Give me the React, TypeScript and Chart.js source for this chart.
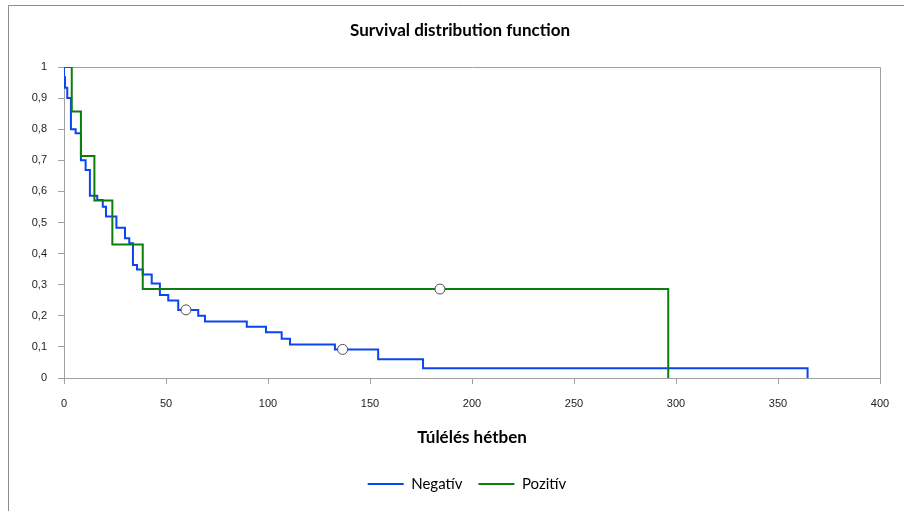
import React, { useEffect, useRef } from "react";
import { Chart, registerables } from "chart.js";

Chart.register(...registerables);

// ---- Data ----
const negTimes = [0, 0, 0.5, 1.6, 3.4, 5.7, 8.3, 10.6, 12.7, 16.3, 19, 20.6, 25.7, 29.9, 32, 33.8, 35.8, 38.6, 43, 47, 51.1, 56, 65.8, 69.1, 89.6, 99, 106.7, 110.8, 132.8, 154, 176, 364.5];
const negSurv = [1, 0.967, 0.933, 0.9, 0.8, 0.787, 0.7, 0.669, 0.586, 0.572, 0.551, 0.519, 0.483, 0.449, 0.433, 0.363, 0.349, 0.333, 0.304, 0.267, 0.249, 0.219, 0.2, 0.182, 0.165, 0.147, 0.126, 0.108, 0.092, 0.06, 0.031, 0];

const posTimes = [0, 3.8, 8.3, 14.9, 23.7, 38.6, 296.2];
const posSurv = [1, 0.857, 0.714, 0.571, 0.429, 0.286, 0];

const censoredTimes = [59.8, 136.6, 184.3];
const censoredSurv = [0.219, 0.092, 0.286];

const seriesNames = ["Negatív", "Pozitív"];
const xTickValues = [0, 50, 100, 150, 200, 250, 300, 350, 400];
const yTickLabels = ["0", "0,1", "0,2", "0,3", "0,4", "0,5", "0,6", "0,7", "0,8", "0,9", "1"];

const chartTitle = "Survival distribution function";
const xAxisTitle = "Túlélés hétben";

const BLUE = "#0a45f0";
const GREEN = "#0e7d0e";
const AXIS_GRAY = "#a0a0a0";

const toPoints = (xs: number[], ys: number[]) => xs.map((x, i) => ({ x, y: ys[i] }));

const framePlugin = {
  id: "frame",
  afterLayout(chart: any) {
    // let the y tick labels use the space to the left of the axis box
    const y = chart.scales.y;
    if (y) y.left = 0;
    // nudge the legend to sit under the plot like in the reference
    if (chart.legend) {
      chart.legend.left += 7;
      chart.legend.right += 7;
    }
  },
  beforeDraw(chart: any) {
    const { ctx, width, height } = chart;
    ctx.save();
    ctx.fillStyle = "#ffffff";
    ctx.fillRect(0, 0, width, height);
    ctx.strokeStyle = "#8c8c8c";
    ctx.lineWidth = 1;
    ctx.beginPath();
    ctx.moveTo(8.5, height);
    ctx.lineTo(8.5, 5.5);
    ctx.lineTo(width, 5.5);
    ctx.stroke();
    ctx.restore();
  },
  beforeDatasetsDraw(chart: any) {
    const { ctx, chartArea } = chart;
    ctx.save();
    ctx.strokeStyle = AXIS_GRAY;
    ctx.lineWidth = 1;
    ctx.beginPath();
    ctx.moveTo(Math.round(chartArea.left) + 0.5, Math.round(chartArea.top) + 0.5);
    ctx.lineTo(Math.round(chartArea.right) + 0.5, Math.round(chartArea.top) + 0.5);
    ctx.lineTo(Math.round(chartArea.right) + 0.5, Math.round(chartArea.bottom) + 0.5);
    ctx.stroke();
    ctx.restore();
  },
};

export default function App() {
  const canvasRef = useRef<HTMLCanvasElement | null>(null);

  useEffect(() => {
    if (!canvasRef.current) return;
    const chart = new Chart(canvasRef.current, {
      type: "scatter",
      data: {
        datasets: [
          {
            label: seriesNames[0],
            data: toPoints(negTimes, negSurv),
            showLine: true,
            stepped: "before",
            borderColor: BLUE,
            backgroundColor: BLUE,
            borderWidth: 2,
            pointRadius: 0,
            pointHoverRadius: 0,
            order: 2,
          },
          {
            label: seriesNames[1],
            data: toPoints(posTimes, posSurv),
            showLine: true,
            stepped: "before",
            borderColor: GREEN,
            backgroundColor: GREEN,
            borderWidth: 2,
            pointRadius: 0,
            pointHoverRadius: 0,
            order: 1,
          },
          {
            label: "censored",
            data: toPoints(censoredTimes, censoredSurv),
            showLine: false,
            pointRadius: 5,
            pointBorderWidth: 1,
            pointBackgroundColor: "#ffffff",
            pointBorderColor: "#505050",
            order: 0,
          } as any,
        ],
      },
      options: {
        responsive: false,
        animation: false,
        devicePixelRatio: 1,
        layout: { padding: { left: 40, right: 24, top: 0, bottom: 9.5 } },
        plugins: {
          tooltip: { enabled: false },
          title: {
            display: true,
            text: chartTitle,
            color: "#000000",
            font: { family: "Lato", size: 17, weight: "bold" },
            padding: { top: 20.8, bottom: 25.8 },
          },
          legend: {
            display: true,
            position: "bottom",
            labels: {
              usePointStyle: true,
              pointStyle: "line",
              pointStyleWidth: 36,
              padding: 16,
              color: "#000000",
              font: { family: "Lato", size: 15 },
              filter: (item: any) => item.datasetIndex < 2,
              sort: (a: any, b: any) => a.datasetIndex - b.datasetIndex,
            },
          },
        },
        scales: {
          x: {
            type: "linear",
            min: 0,
            max: 400,
            afterBuildTicks: (scale: any) => {
              scale.ticks = xTickValues.map((v) => ({ value: v }));
            },
            afterFit: (scale: any) => {
              scale.height = 82.5;
            },
            ticks: {
              color: "#222222",
              font: { family: "Liberation Sans", size: 11 },
              padding: 13,
              maxRotation: 0,
            },
            grid: {
              display: true,
              drawOnChartArea: false,
              drawTicks: true,
              tickLength: 6,
              color: AXIS_GRAY,
            },
            border: { display: true, color: AXIS_GRAY, width: 1 },
            title: {
              display: true,
              text: xAxisTitle,
              color: "#000000",
              font: { family: "Lato", size: 17, weight: "bold" },
              padding: { top: 4, bottom: 12.3 },
            },
          },
          y: {
            type: "linear",
            min: 0,
            max: 1,
            afterBuildTicks: (scale: any) => {
              scale.ticks = yTickLabels.map((_, i) => ({ value: i / 10 }));
            },
            afterFit: (scale: any) => {
              scale.width = 24;
            },
            ticks: {
              color: "#222222",
              font: { family: "Liberation Sans", size: 11 },
              padding: 11,
              callback: (_v: any, i: number) => yTickLabels[i],
            },
            grid: {
              display: true,
              drawOnChartArea: false,
              drawTicks: true,
              tickLength: 6,
              color: AXIS_GRAY,
            },
            border: { display: true, color: AXIS_GRAY, width: 1 },
          },
        },
      } as any,
      plugins: [framePlugin],
    });
    return () => chart.destroy();
  }, []);

  return (
    <div style={{ position: "absolute", left: 0, top: 0, width: 904, height: 511, background: "#ffffff" }}>
      <canvas ref={canvasRef} width={904} height={511} style={{ width: 904, height: 511, display: "block" }} />
    </div>
  );
}
